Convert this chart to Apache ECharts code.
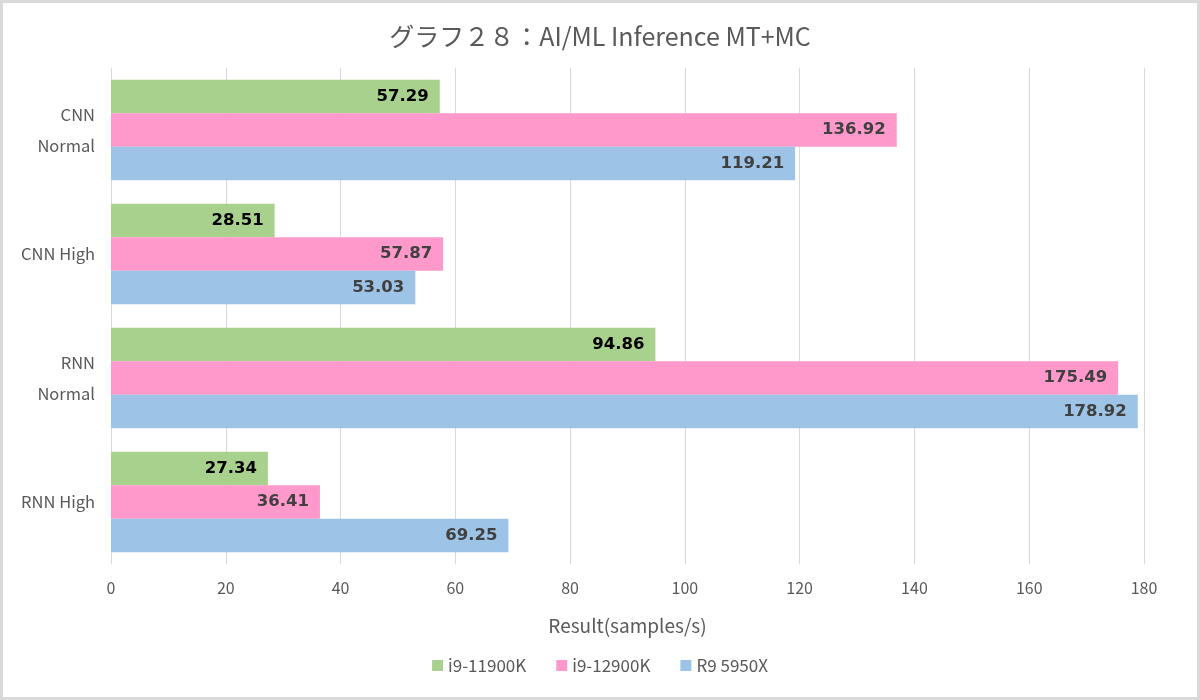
<!DOCTYPE html>
<html><head><meta charset="utf-8">
<script src="https://cdn.jsdelivr.net/npm/echarts@6/dist/echarts.min.js"></script>
<style>
html,body{margin:0;padding:0;background:#fff;}
#wrap{width:1200px;height:700px;box-sizing:border-box;border:3px solid #d9d9d9;}
#c{width:1194px;height:694px;}
</style></head>
<body><div id="wrap"><div id="c"></div></div>
<script>
const categories = ['CNN Normal', 'CNN High', 'RNN Normal', 'RNN High'];
const seriesNames = ['i9-11900K', 'i9-12900K', 'R9 5950X'];
const i9_11900K = [57.29, 28.51, 94.86, 27.34];
const i9_12900K = [136.92, 57.87, 175.49, 36.41];
const r9_5950X = [119.21, 53.03, 178.92, 69.25];
const xTicks = {min: 0, max: 180, interval: 20};
const colors = ['#a9d18e', '#ff99cc', '#9dc3e6'];
const labelColors = ['#000000', '#404040', '#404040'];
const font = '"Noto Sans CJK JP", "Noto Sans", sans-serif';

const chart = echarts.init(document.getElementById('c'));
const data = [i9_11900K, i9_12900K, r9_5950X];
chart.setOption({
  animation: false,
  textStyle: {fontFamily: font},
  title: {
    text: 'グラフ２８：AI/ML Inference MT+MC',
    left: 'center', top: 16,
    textStyle: {fontSize: 25, fontWeight: 'normal', color: '#595959', fontFamily: font}
  },
  legend: {
    bottom: 18, left: 'center',
    itemWidth: 11, itemHeight: 11, itemGap: 30,
    icon: 'rect',
    textStyle: {fontSize: 17, color: '#595959', fontFamily: font},
    data: seriesNames
  },
  grid: {left: 108, right: 53, top: 65, bottom: 133},
  xAxis: {
    type: 'value', min: xTicks.min, max: xTicks.max, interval: xTicks.interval,
    name: 'Result(samples/s)', nameLocation: 'middle', nameGap: 52,
    nameTextStyle: {fontSize: 19, color: '#595959', fontFamily: font},
    axisLabel: {fontSize: 16, color: '#595959', margin: 16},
    splitLine: {lineStyle: {color: '#d9d9d9', width: 1}},
    axisLine: {show: false}, axisTick: {show: false}
  },
  yAxis: {
    type: 'category', inverse: true, data: categories,
    axisLine: {show: true, lineStyle: {color: '#d9d9d9'}},
    axisTick: {show: false},
    axisLabel: {
      fontSize: 16.5, color: '#595959', margin: 16, lineHeight: 31,
      formatter: v => v.replace(' Normal', '\nNormal')
    }
  },
  series: data.map((d, i) => ({
    name: seriesNames[i], type: 'bar', data: d,
    barGap: '0%', barCategoryGap: '19%',
    itemStyle: {color: colors[i]},
    label: {
      show: true, position: 'insideRight', distance: 11,
      color: labelColors[i], fontWeight: 'bold', fontSize: 16.5,
      fontFamily: '"DejaVu Sans", sans-serif',
      formatter: p => p.value.toFixed(2)
    }
  }))
});
</script></body></html>
